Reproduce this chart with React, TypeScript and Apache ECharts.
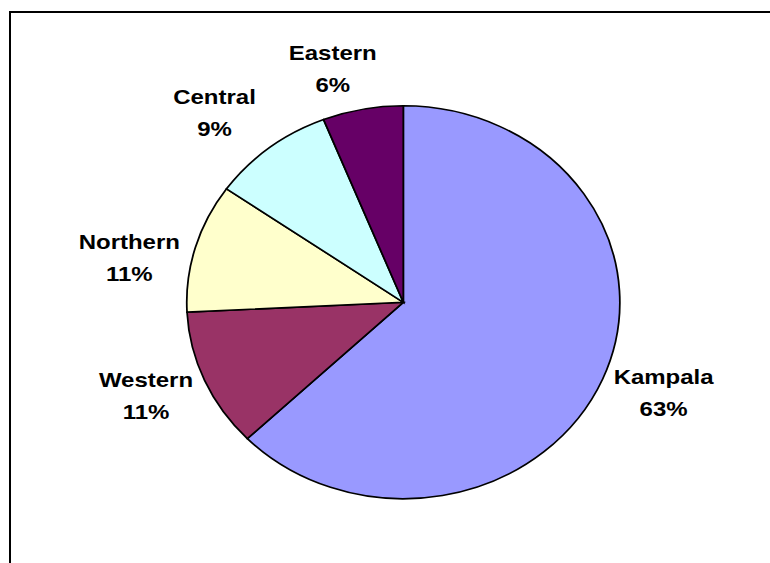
import React, { useEffect, useRef } from "react";
import * as echarts from "echarts";

// ---- data ----
const categories = ["Kampala", "Western", "Northern", "Central", "Eastern"];
const shares = [62.8, 11.4, 10.6, 9.2, 6.0];

// ---- styles / layout ----
const sliceColors = ["#9999FF", "#993366", "#FFFFCC", "#CCFFFF", "#660066"];
// label block centre relative to the slice's mid-angle point on the rim
const labelOffsets = [
  [61, 14.5],
  [-58.5, 15.4],
  [-66, 11],
  [-55, -35],
  [-30, -40],
];
const CX = 403.3;
const CY = 302.3;
const RX = 216.6;
const RY = 196.5;

export default function App() {
  const ref = useRef<HTMLDivElement>(null);

  useEffect(() => {
    document.body.style.margin = "0";
    if (!ref.current) return;
    const chart = echarts.init(ref.current, undefined, { renderer: "svg" });
    const total = shares.reduce((a, b) => a + b, 0);

    const renderItem = (params: any, api: any) => {
      const idx = params.dataIndex;
      let before = 0;
      for (let i = 0; i < idx; i++) before += shares[i];
      const v = api.value(1);
      const a0 = -Math.PI / 2 + (2 * Math.PI * before) / total;
      const a1 = -Math.PI / 2 + (2 * Math.PI * (before + v)) / total;
      const mid = (a0 + a1) / 2;
      const ax = CX + RX * Math.cos(mid);
      const ay = CY + RY * Math.sin(mid);
      const pct = Math.round((v / total) * 100);
      return {
        type: "group",
        children: [
          {
            type: "group",
            x: CX,
            y: CY,
            scaleX: RX / RY,
            children: [
              {
                type: "sector",
                shape: { cx: 0, cy: 0, r: RY, r0: 0, startAngle: a0, endAngle: a1, clockwise: true },
                style: {
                  fill: sliceColors[idx],
                  stroke: "#000",
                  lineWidth: 1.6,
                  strokeNoScale: true,
                },
              },
            ],
          },
          {
            type: "text",
            x: ax + labelOffsets[idx][0],
            y: ay + labelOffsets[idx][1],
            scaleX: 1.2,
            style: {
              text: categories[idx] + "\n" + pct + "%",
              fill: "#000",
              font: 'bold 20px "Liberation Sans", Arial, sans-serif',
              align: "center",
              textAlign: "center",
              verticalAlign: "middle",
              textVerticalAlign: "middle",
              lineHeight: 32,
            },
          },
        ],
      };
    };

    chart.setOption({
      animation: false,
      backgroundColor: "#ffffff",
      graphic: [
        {
          type: "rect",
          shape: { x: 10, y: 12, width: 900, height: 700 },
          style: { fill: "none", stroke: "#000", lineWidth: 2 },
          z: 0,
        },
      ],
      series: [
        {
          type: "custom",
          coordinateSystem: "none",
          renderItem,
          data: categories.map((c, i) => [c, shares[i]]),
          silent: true,
        },
      ],
    });

    return () => chart.dispose();
  }, []);

  return <div ref={ref} style={{ width: 770, height: 563 }} />;
}
